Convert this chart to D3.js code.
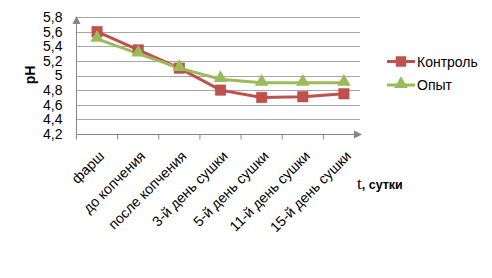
<!DOCTYPE html>
<html><head><meta charset="utf-8">
<script src="https://cdn.jsdelivr.net/npm/d3@7"></script>
<style>body{margin:0;background:#fff}svg{display:block}text{font-family:"Liberation Sans",Arial,sans-serif}</style>
</head><body>
<script>
const categories = ["фарш","до копчения","после копчения","3-й день сушки","5-й день сушки","11-й день сушки","15-й день сушки"];
const control = [5.6, 5.35, 5.1, 4.8, 4.7, 4.71, 4.75];
const opyt = [5.5, 5.3, 5.1, 4.95, 4.9, 4.9, 4.9];
const yTicks = [4.2,4.4,4.6,4.8,5,5.2,5.4,5.6,5.8];
const seriesNames = ["Контроль","Опыт"];
const colors = ["#C0504D","#9BBB59"];

const W=492,H=278;
const svg=d3.select("body").append("svg").attr("width",W).attr("height",H);
const x=d3.scaleBand().domain(categories).range([76.5,364.5]);
const y=d3.scaleLinear().domain([4.2,5.8]).range([134,17]);
const fmt=v=>String(v).replace(".",",");

// gridlines
svg.append("g").selectAll("line").data(yTicks.slice(1)).join("line")
  .attr("x1",76.5).attr("x2",360).attr("y1",d=>Math.round(y(d))+0.5).attr("y2",d=>Math.round(y(d))+0.5)
  .attr("stroke","#A6A6A6").attr("stroke-width",1);

// y axis
const ya=svg.append("g").attr("transform","translate(76.5,0)")
  .call(d3.axisLeft(y).tickValues(yTicks).tickFormat(fmt).tickSize(0).tickPadding(14));
ya.select(".domain").remove();
ya.selectAll("text").attr("font-size",14).attr("fill","#000");
svg.append("line").attr("x1",76.5).attr("x2",76.5).attr("y1",134.5).attr("y2",20).attr("stroke","#868686");
svg.append("path").attr("d","M72.5,24 L76.5,16 L80.5,24 Z").attr("fill","#868686");

// x axis
const xa=svg.append("g").attr("transform","translate(0,134.5)")
  .call(d3.axisBottom(x).tickSize(5).tickSizeOuter(0).tickFormat(""));
xa.select(".domain").remove();
xa.selectAll(".tick line").attr("stroke","#868686").attr("transform",`translate(${-x.bandwidth()/2},0)`);
svg.append("line").attr("x1",76.5).attr("x2",356).attr("y1",134.5).attr("y2",134.5).attr("stroke","#868686");
svg.append("path").attr("d","M354,130.5 L362,134.5 L354,138.5 Z").attr("fill","#868686");

// x labels rotated
svg.append("g").selectAll("text").data(categories).join("text")
  .attr("transform",d=>`translate(${x(d)+x.bandwidth()/2+8},${157}) rotate(-45)`)
  .attr("text-anchor","end").attr("font-size",14.2).attr("fill","#000").text(d=>d);

// lines
const line=d3.line().x((d,i)=>x(categories[i])+x.bandwidth()/2).y(d=>y(d));
[control,opyt].forEach((s,k)=>{
  svg.append("path").datum(s).attr("d",line).attr("fill","none").attr("stroke",colors[k]).attr("stroke-width",3);
});
// markers
const sq=d3.symbol().type(d3.symbolSquare).size(110);
const tri=d3.symbol().type(d3.symbolTriangle).size(80);
svg.append("g").selectAll("path").data(control).join("path")
  .attr("d",sq).attr("transform",(d,i)=>`translate(${x(categories[i])+x.bandwidth()/2},${y(d)})`)
  .attr("fill",colors[0]).attr("stroke","#B94A47").attr("stroke-width",0.5);
svg.append("g").selectAll("path").data(opyt).join("path")
  .attr("d",tri).attr("transform",(d,i)=>`translate(${x(categories[i])+x.bandwidth()/2},${y(d)-1})`)
  .attr("fill",colors[1]);

// legend
const lg=svg.append("g");
[0,1].forEach(k=>{
  const ly=k===0?61.5:85;
  lg.append("line").attr("x1",387).attr("x2",415).attr("y1",ly).attr("y2",ly).attr("stroke",colors[k]).attr("stroke-width",3);
  lg.append("path").attr("d",k===0?sq:tri).attr("transform",`translate(401,${k===0?ly:ly-1})`).attr("fill",colors[k]);
  lg.append("text").attr("x",417).attr("y",ly+5).attr("font-size",14).attr("fill","#000").text(seriesNames[k]);
});

// axis titles
svg.append("text").attr("transform","translate(35,75) rotate(-90)").attr("text-anchor","middle")
  .attr("font-size",14).attr("font-weight","bold").attr("fill","#000").text("pH");
const t=svg.append("text").attr("x",357).attr("y",189).attr("fill","#000");
t.append("tspan").attr("font-size",17).attr("font-family","Liberation Serif, serif").text("t");
t.append("tspan").attr("font-size",12.5).attr("font-weight","bold").text(", сутки");
</script>
</body></html>
